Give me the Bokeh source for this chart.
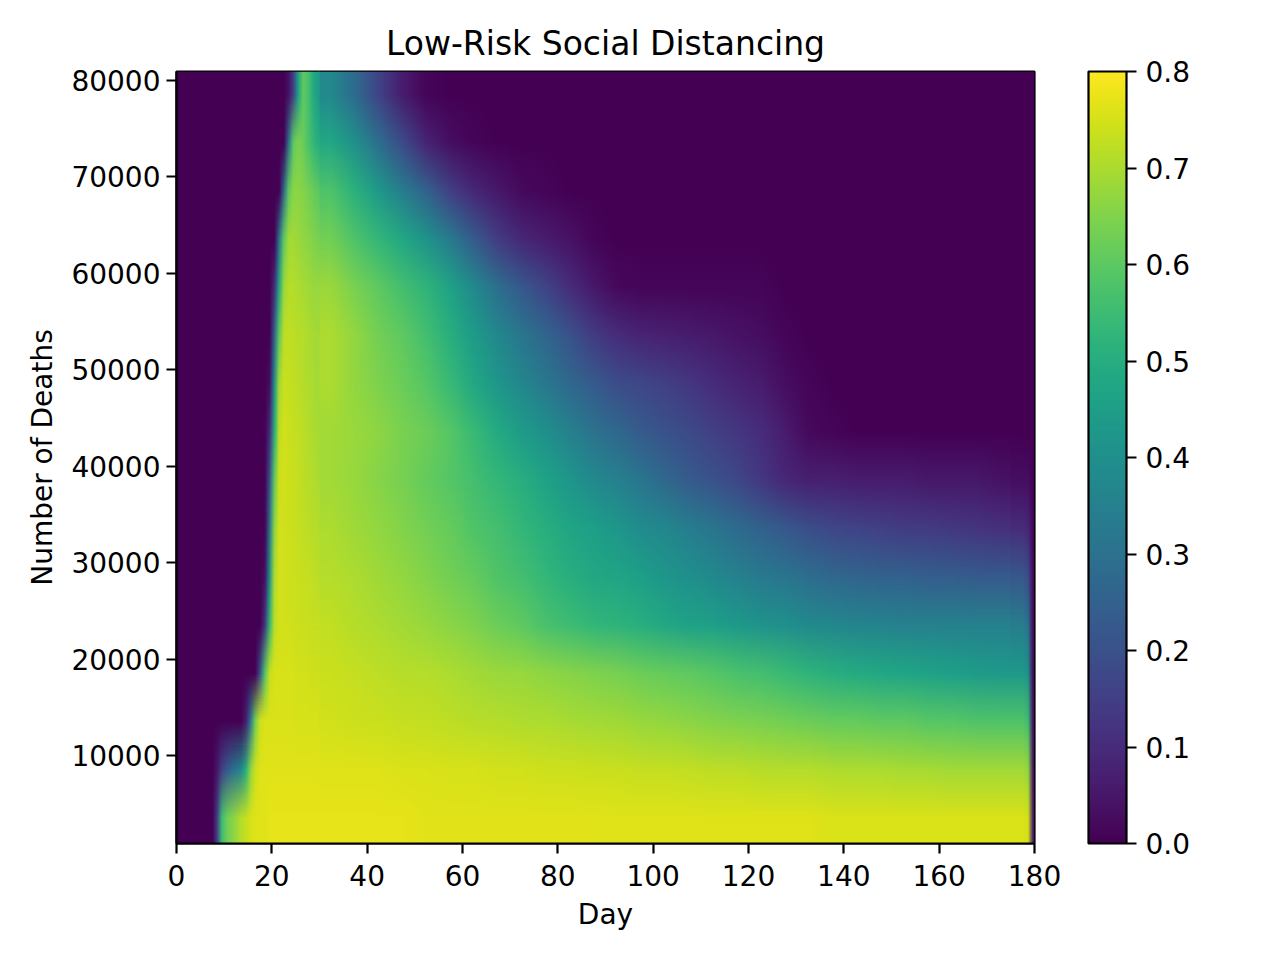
import numpy as np
from bokeh.plotting import figure
from bokeh.document import Document
from bokeh.models import (LinearColorMapper, ColorBar, FixedTicker, PrintfTickFormatter,
                          Range1d, CustomJS)
from bokeh.palettes import Viridis256
from bokeh.embed import file_html
from bokeh.resources import INLINE

# ---- data ----
# row centres (number of deaths), shared by all three grid blocks
deaths = [3400, 8400, 13400, 18400, 23400, 28400, 33400, 38400,
          43400, 48400, 53400, 58400, 63400, 68400, 73400, 78400]

# block A: days 0-30, one column per day (centres 0.5 ... 29.5)
days_a = [0.5, 1.5, 2.5, 3.5, 4.5, 5.5, 6.5, 7.5, 8.5, 9.5, 10.5, 11.5, 12.5, 13.5, 14.5,
          15.5, 16.5, 17.5, 18.5, 19.5, 20.5, 21.5, 22.5, 23.5, 24.5, 25.5, 26.5, 27.5, 28.5, 29.5]
a03400 = [0, 0, 0, 0, 0, 0, 0, 0, 0.15, 0.55, 0.62, 0.65, 0.68, 0.71, 0.73,
          0.75, 0.76, 0.76, 0.765, 0.77, 0.77, 0.77, 0.77, 0.77, 0.77, 0.77, 0.77, 0.77, 0.77, 0.77]
a08400 = [0, 0, 0, 0, 0, 0, 0, 0, 0.05, 0.15, 0.22, 0.28, 0.32, 0.38, 0.50,
          0.66, 0.74, 0.76, 0.765, 0.765, 0.765, 0.765, 0.765, 0.765, 0.765, 0.765, 0.765, 0.765, 0.765, 0.765]
a13400 = [0, 0, 0, 0, 0, 0, 0, 0, 0, 0, 0, 0, 0, 0, 0.06,
          0.30, 0.63, 0.74, 0.755, 0.755, 0.755, 0.755, 0.755, 0.755, 0.755, 0.75, 0.75, 0.75, 0.75, 0.75]
a18400 = [0, 0, 0, 0, 0, 0, 0, 0, 0, 0, 0, 0, 0, 0, 0,
          0, 0, 0.20, 0.58, 0.73, 0.75, 0.75, 0.75, 0.75, 0.75, 0.745, 0.745, 0.745, 0.74, 0.74]
a23400 = [0, 0, 0, 0, 0, 0, 0, 0, 0, 0, 0, 0, 0, 0, 0,
          0, 0, 0, 0.12, 0.53, 0.72, 0.745, 0.745, 0.745, 0.74, 0.74, 0.735, 0.735, 0.73, 0.73]
a28400 = [0, 0, 0, 0, 0, 0, 0, 0, 0, 0, 0, 0, 0, 0, 0,
          0, 0, 0, 0.03, 0.40, 0.70, 0.745, 0.745, 0.74, 0.74, 0.735, 0.73, 0.73, 0.725, 0.72]
a33400 = [0, 0, 0, 0, 0, 0, 0, 0, 0, 0, 0, 0, 0, 0, 0,
          0, 0, 0, 0, 0.30, 0.66, 0.745, 0.745, 0.74, 0.735, 0.73, 0.725, 0.72, 0.715, 0.71]
a38400 = [0, 0, 0, 0, 0, 0, 0, 0, 0, 0, 0, 0, 0, 0, 0,
          0, 0, 0, 0, 0.20, 0.60, 0.74, 0.745, 0.74, 0.735, 0.73, 0.72, 0.715, 0.71, 0.70]
a43400 = [0, 0, 0, 0, 0, 0, 0, 0, 0, 0, 0, 0, 0, 0, 0,
          0, 0, 0, 0, 0.10, 0.50, 0.72, 0.745, 0.74, 0.73, 0.725, 0.72, 0.71, 0.70, 0.695]
a48400 = [0, 0, 0, 0, 0, 0, 0, 0, 0, 0, 0, 0, 0, 0, 0,
          0, 0, 0, 0, 0.03, 0.40, 0.69, 0.735, 0.73, 0.725, 0.72, 0.71, 0.705, 0.70, 0.69]
a53400 = [0, 0, 0, 0, 0, 0, 0, 0, 0, 0, 0, 0, 0, 0, 0,
          0, 0, 0, 0, 0, 0.25, 0.60, 0.72, 0.725, 0.72, 0.715, 0.71, 0.70, 0.695, 0.69]
a58400 = [0, 0, 0, 0, 0, 0, 0, 0, 0, 0, 0, 0, 0, 0, 0,
          0, 0, 0, 0, 0, 0.10, 0.48, 0.68, 0.71, 0.71, 0.70, 0.695, 0.69, 0.68, 0.675]
a63400 = [0, 0, 0, 0, 0, 0, 0, 0, 0, 0, 0, 0, 0, 0, 0,
          0, 0, 0, 0, 0, 0, 0.30, 0.60, 0.69, 0.69, 0.68, 0.67, 0.66, 0.65, 0.64]
a68400 = [0, 0, 0, 0, 0, 0, 0, 0, 0, 0, 0, 0, 0, 0, 0,
          0, 0, 0, 0, 0, 0, 0, 0.28, 0.60, 0.66, 0.66, 0.65, 0.64, 0.62, 0.60]
a73400 = [0, 0, 0, 0, 0, 0, 0, 0, 0, 0, 0, 0, 0, 0, 0,
          0, 0, 0, 0, 0, 0, 0, 0, 0.30, 0.60, 0.64, 0.62, 0.58, 0.54, 0.50]
a78400 = [0, 0, 0, 0, 0, 0, 0, 0, 0, 0, 0, 0, 0, 0, 0,
          0, 0, 0, 0, 0, 0, 0, 0, 0.04, 0.15, 0.45, 0.60, 0.58, 0.50, 0.45]

# block B: days 30-175, one column per five days (centres 32.5 ... 172.5)
days_b = [32.5, 37.5, 42.5, 47.5, 52.5, 57.5, 62.5, 67.5, 72.5, 77.5, 82.5, 87.5, 92.5, 97.5,
          102.5, 107.5, 112.5, 117.5, 122.5, 127.5, 132.5, 137.5, 142.5, 147.5, 152.5, 157.5,
          162.5, 167.5, 172.5]
b03400 = [0.77, 0.77, 0.77, 0.77, 0.765, 0.765, 0.765, 0.765, 0.765, 0.765, 0.765, 0.765, 0.76, 0.76,
          0.76, 0.76, 0.76, 0.76, 0.76, 0.76, 0.76, 0.755, 0.755, 0.755, 0.755, 0.755, 0.755, 0.755, 0.755]
b08400 = [0.76, 0.76, 0.76, 0.755, 0.755, 0.75, 0.75, 0.745, 0.745, 0.74, 0.74, 0.735, 0.735, 0.73,
          0.73, 0.725, 0.72, 0.72, 0.715, 0.71, 0.71, 0.705, 0.70, 0.70, 0.695, 0.695, 0.69, 0.69, 0.69]
b13400 = [0.745, 0.74, 0.735, 0.73, 0.725, 0.72, 0.715, 0.71, 0.705, 0.70, 0.695, 0.69, 0.685, 0.675,
          0.67, 0.66, 0.65, 0.645, 0.64, 0.63, 0.62, 0.61, 0.61, 0.60, 0.60, 0.59, 0.59, 0.58, 0.58]
b18400 = [0.735, 0.73, 0.72, 0.715, 0.71, 0.70, 0.69, 0.68, 0.675, 0.665, 0.655, 0.645, 0.635, 0.62,
          0.61, 0.60, 0.59, 0.57, 0.56, 0.54, 0.52, 0.50, 0.49, 0.48, 0.47, 0.46, 0.45, 0.44, 0.43]
b23400 = [0.725, 0.71, 0.70, 0.69, 0.675, 0.66, 0.645, 0.62, 0.60, 0.57, 0.55, 0.53, 0.52, 0.50,
          0.48, 0.46, 0.45, 0.43, 0.41, 0.40, 0.38, 0.37, 0.36, 0.36, 0.35, 0.35, 0.35, 0.35, 0.35]
b28400 = [0.71, 0.70, 0.685, 0.67, 0.65, 0.63, 0.61, 0.58, 0.56, 0.53, 0.50, 0.48, 0.47, 0.45,
          0.42, 0.40, 0.38, 0.35, 0.33, 0.31, 0.29, 0.27, 0.26, 0.25, 0.25, 0.24, 0.24, 0.23, 0.23]
b33400 = [0.70, 0.685, 0.67, 0.65, 0.63, 0.61, 0.58, 0.56, 0.53, 0.50, 0.47, 0.45, 0.42, 0.39,
          0.37, 0.34, 0.31, 0.28, 0.25, 0.22, 0.19, 0.17, 0.16, 0.15, 0.14, 0.14, 0.13, 0.12, 0.11]
b38400 = [0.69, 0.675, 0.655, 0.635, 0.61, 0.59, 0.56, 0.53, 0.50, 0.46, 0.42, 0.38, 0.35, 0.31,
          0.27, 0.23, 0.20, 0.17, 0.13, 0.09, 0.07, 0.07, 0.06, 0.06, 0.06, 0.05, 0.05, 0.05, 0.04]
b43400 = [0.69, 0.68, 0.665, 0.64, 0.62, 0.59, 0.54, 0.49, 0.44, 0.40, 0.35, 0.30, 0.27, 0.23,
          0.20, 0.18, 0.15, 0.13, 0.10, 0.06, 0.02, 0.01, 0, 0, 0, 0, 0, 0, 0]
b48400 = [0.70, 0.67, 0.645, 0.62, 0.59, 0.54, 0.48, 0.42, 0.37, 0.32, 0.27, 0.23, 0.19, 0.17,
          0.15, 0.13, 0.10, 0.08, 0.06, 0.03, 0.01, 0, 0, 0, 0, 0, 0, 0, 0]
b53400 = [0.70, 0.67, 0.63, 0.60, 0.56, 0.50, 0.44, 0.37, 0.31, 0.26, 0.20, 0.14, 0.10, 0.08,
          0.07, 0.06, 0.05, 0.04, 0.03, 0.01, 0, 0, 0, 0, 0, 0, 0, 0, 0]
b58400 = [0.68, 0.64, 0.60, 0.56, 0.52, 0.46, 0.38, 0.29, 0.22, 0.16, 0.10, 0.05, 0.02, 0.01,
          0.01, 0.01, 0.01, 0.01, 0.01, 0, 0, 0, 0, 0, 0, 0, 0, 0, 0]
b63400 = [0.63, 0.58, 0.53, 0.48, 0.41, 0.33, 0.23, 0.14, 0.09, 0.06, 0.04, 0.01, 0, 0,
          0, 0, 0, 0, 0, 0, 0, 0, 0, 0, 0, 0, 0, 0, 0]
b68400 = [0.58, 0.51, 0.43, 0.34, 0.25, 0.15, 0.09, 0.05, 0.02, 0.01, 0, 0, 0, 0,
          0, 0, 0, 0, 0, 0, 0, 0, 0, 0, 0, 0, 0, 0, 0]
b73400 = [0.48, 0.40, 0.29, 0.18, 0.08, 0.03, 0.01, 0, 0, 0, 0, 0, 0, 0,
          0, 0, 0, 0, 0, 0, 0, 0, 0, 0, 0, 0, 0, 0, 0]
b78400 = [0.38, 0.28, 0.16, 0.06, 0.01, 0, 0, 0, 0, 0, 0, 0, 0, 0,
          0, 0, 0, 0, 0, 0, 0, 0, 0, 0, 0, 0, 0, 0, 0]

# block C: days 175-180, one column per day (centres 175.5 ... 179.5)
days_c = [175.5, 176.5, 177.5, 178.5, 179.5]
c03400 = [0.755, 0.755, 0.755, 0.745, 0.05]
c08400 = [0.69, 0.69, 0.69, 0.67, 0.04]
c13400 = [0.58, 0.58, 0.58, 0.55, 0.03]
c18400 = [0.43, 0.43, 0.43, 0.40, 0.02]
c23400 = [0.34, 0.34, 0.34, 0.30, 0.02]
c28400 = [0.22, 0.22, 0.22, 0.19, 0.02]
c33400 = [0.10, 0.10, 0.10, 0.09, 0.01]
c38400 = [0.03, 0.03, 0.03, 0.03, 0]
c43400 = [0, 0, 0, 0, 0]
c48400 = [0, 0, 0, 0, 0]
c53400 = [0, 0, 0, 0, 0]
c58400 = [0, 0, 0, 0, 0]
c63400 = [0, 0, 0, 0, 0]
c68400 = [0, 0, 0, 0, 0]
c73400 = [0, 0, 0, 0, 0]
c78400 = [0, 0, 0, 0, 0]

x_ticks = [0, 20, 40, 60, 80, 100, 120, 140, 160, 180]
y_ticks = [10000, 20000, 30000, 40000, 50000, 60000, 70000, 80000]
cbar_ticks = [0.0, 0.1, 0.2, 0.3, 0.4, 0.5, 0.6, 0.7, 0.8]
day_min, day_max = 0, 180
deaths_min, deaths_max = 874, 80933
value_low, value_high = 0.0, 0.8

grid_a = np.array([a03400, a08400, a13400, a18400, a23400, a28400, a33400, a38400,
                   a43400, a48400, a53400, a58400, a63400, a68400, a73400, a78400], dtype=float)
grid_b = np.array([b03400, b08400, b13400, b18400, b23400, b28400, b33400, b38400,
                   b43400, b48400, b53400, b58400, b63400, b68400, b73400, b78400], dtype=float)
grid_c = np.array([c03400, c08400, c13400, c18400, c23400, c28400, c33400, c38400,
                   c43400, c48400, c53400, c58400, c63400, c68400, c73400, c78400], dtype=float)

FONT = "DejaVu Sans"
FW, FH = 858, 772

p = figure(frame_width=FW, frame_height=FH,
           x_range=Range1d(day_min, day_max), y_range=Range1d(deaths_min, deaths_max),
           output_backend="svg", toolbar_location=None,
           min_border_left=176, min_border_top=71, min_border_bottom=100, min_border_right=200,
           title="Low-Risk Social Distancing")

mapper = LinearColorMapper(palette=Viridis256, low=value_low, high=value_high)

def block_extent(days_blk, pad=0.0):
    step = days_blk[1] - days_blk[0]
    return days_blk[0] - step / 2 - pad, days_blk[-1] + step / 2 + pad

# middle block drawn first, a hair wider, so the outer blocks cover its soft edges
for days_blk, grid_blk, pad in ((days_b, grid_b, 0.25), (days_a, grid_a, 0.0),
                                (days_c, grid_c, 0.0)):
    x0, x1 = block_extent(days_blk, pad)
    p.image(image=[grid_blk], x=x0, y=deaths_min, dw=x1 - x0,
            dh=deaths_max - deaths_min, color_mapper=mapper)

p.title.align = "center"
p.title.text_font = FONT
p.title.text_font_size = "33px"
p.title.text_font_style = "normal"
p.title.text_color = "black"
p.title.standoff = 18

p.grid.visible = False
p.outline_line_color = "black"
p.outline_line_width = 2.2
p.outline_line_alpha = 1.0

p.xaxis.ticker = FixedTicker(ticks=x_ticks)
p.yaxis.ticker = FixedTicker(ticks=y_ticks)
p.xaxis.axis_label = "Day"
p.yaxis.axis_label = "Number of Deaths"
for ax in (p.xaxis[0], p.yaxis[0]):
    ax.axis_label_text_font = FONT
    ax.axis_label_text_font_size = "28px"
    ax.axis_label_text_font_style = "normal"
    ax.axis_label_text_color = "black"
    ax.major_label_text_font = FONT
    ax.major_label_text_font_size = "28px"
    ax.major_label_text_color = "black"
    ax.axis_line_width = 2.2
    ax.axis_line_color = "black"
    ax.major_tick_line_width = 2.2
    ax.major_tick_line_color = "black"
    ax.major_tick_out = 10
    ax.major_tick_in = 0
    ax.minor_tick_line_color = None
p.xaxis.major_label_standoff = 11
p.yaxis.major_label_standoff = 6
p.xaxis.axis_label_standoff = 9
p.yaxis.axis_label_standoff = 9
p.yaxis.major_label_orientation = "horizontal"

cbar = ColorBar(color_mapper=mapper, ticker=FixedTicker(ticks=cbar_ticks),
                formatter=PrintfTickFormatter(format="%.1f"),
                width=38, height=FH, padding=0, margin=0, location=(FW + 54, 0),
                major_label_text_font=FONT, major_label_text_font_size="28px",
                major_label_text_color="black",
                major_tick_out=10, major_tick_in=0, major_tick_line_color="black",
                major_tick_line_width=2.2, minor_tick_line_color=None,
                bar_line_color="black", bar_line_width=2.2,
                border_line_color=None, background_fill_alpha=0, label_standoff=9)
p.add_layout(cbar)

# let the browser smooth (bilinear) the heat-map images when they are scaled up,
# as matplotlib's interpolated imshow does, then redraw once
smooth_js = CustomJS(args=dict(xr=p.x_range), code="""
const proto = CanvasRenderingContext2D.prototype;
if (!window.__smooth_patched) {
  window.__smooth_patched = true;
  const d = Object.getOwnPropertyDescriptor(proto, 'imageSmoothingEnabled');
  if (d && d.set) {
    Object.defineProperty(proto, 'imageSmoothingEnabled', {
      configurable: true, enumerable: d.enumerable,
      get() { return d.get.call(this); },
      set(v) { d.set.call(this, true); try { this.imageSmoothingQuality = 'low'; } catch (e) {} }
    });
  }
}
function fix(root) {
  const els = root.querySelectorAll('*');
  for (const el of els) {
    if (el.shadowRoot) fix(el.shadowRoot);
    const tag = el.tagName ? el.tagName.toLowerCase() : '';
    if (tag === 'image' || tag === 'canvas') {
      el.removeAttribute('image-rendering');
      el.style.setProperty('image-rendering', 'auto', 'important');
    }
  }
}
const s0 = xr.start;
xr.start = s0 + 1e-6;
setTimeout(() => { xr.start = s0; }, 30);
let n = 0;
const t = setInterval(() => { fix(document); n += 1; if (n > 60) clearInterval(t); }, 50);
""")

doc = Document()
doc.add_root(p)
doc.js_on_event("document_ready", smooth_js)

open("out.html", "w").write(file_html(p, INLINE))
